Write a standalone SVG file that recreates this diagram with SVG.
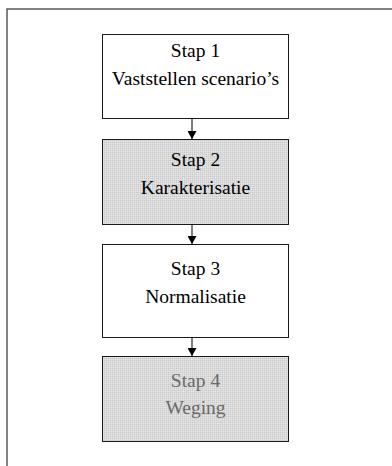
<svg xmlns="http://www.w3.org/2000/svg" width="392" height="466" viewBox="0 0 392 466">
  <defs>
    <!-- fine dotted grey fill used for the shaded steps -->
    <pattern id="dots" width="2" height="2" patternUnits="userSpaceOnUse">
      <rect width="2" height="2" fill="#dcdcdc"/>
      <rect width="1" height="1" fill="#c8c8c8"/>
      <rect x="1" y="1" width="1" height="1" fill="#e4e4e4"/>
    </pattern>
    <marker id="arrow" viewBox="0 0 8 9" refX="8" refY="4.5" markerWidth="8" markerHeight="9" orient="auto" markerUnits="userSpaceOnUse">
      <path d="M0,0 L8,4.5 L0,9 Z" fill="#000"/>
    </marker>
  </defs>
  <style>
    .box { stroke: #1a1a1a; stroke-width: 1; }
    .plain { fill: #ffffff; }
    .shaded { fill: url(#dots); }
    .lbl { font-family: "Liberation Serif", "Times New Roman", serif; font-size: 19.5px; text-anchor: middle; fill: #000; }
    .faded { fill: #6a6a6a; }
    .link { stroke: #000; stroke-width: 1; fill: none; marker-end: url(#arrow); }
  </style>

  <rect width="392" height="466" fill="#ffffff"/>
  <!-- page frame, running past the right and bottom edges -->
  <path d="M7,470 L7,9 L396,9" fill="none" stroke="#5a5a5a" stroke-width="1.5"/>

  <g id="connectors">
    <line class="link" x1="192" y1="118.5" x2="192" y2="139"/>
    <line class="link" x1="192" y1="224.5" x2="192" y2="244"/>
    <line class="link" x1="192" y1="337.5" x2="192" y2="356"/>
  </g>

  <g id="stap1">
    <rect class="box plain" x="102.5" y="34.5" width="186" height="84"/>
    <text class="lbl" x="195.5" y="56.5">Stap 1</text>
    <text class="lbl" x="195.5" y="84.5">Vaststellen scenario’s</text>
  </g>

  <g id="stap2">
    <rect class="box shaded" x="102.5" y="139.5" width="186" height="85"/>
    <text class="lbl" x="195.5" y="166">Stap 2</text>
    <text class="lbl" x="195.5" y="194">Karakterisatie</text>
  </g>

  <g id="stap3">
    <rect class="box plain" x="102.5" y="244.5" width="186" height="93"/>
    <text class="lbl" x="195.5" y="274.5">Stap 3</text>
    <text class="lbl" x="195.5" y="302.5">Normalisatie</text>
  </g>

  <g id="stap4">
    <rect class="box shaded" x="102.5" y="356.5" width="186" height="85"/>
    <text class="lbl faded" x="195.5" y="387">Stap 4</text>
    <text class="lbl faded" x="195.5" y="414">Weging</text>
  </g>
</svg>
